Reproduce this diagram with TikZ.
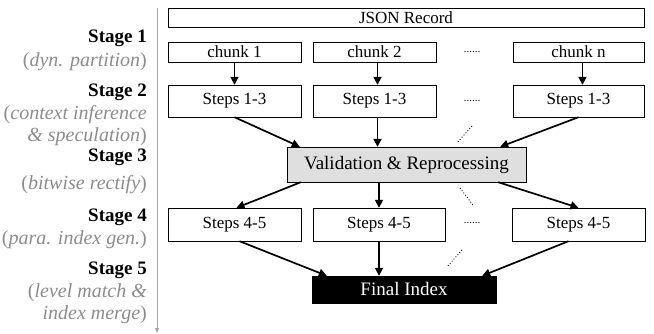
\documentclass[tikz,border=0pt]{standalone}
\usepackage{fontspec}
\setmainfont{Liberation Serif}
\usetikzlibrary{arrows.meta,calc,positioning}
\tikzset{
    box/.style = {
        draw,
        thin,
        inner sep=0pt,
        font=\fontsize{17}{19}\selectfont,
        },
    valid box/.style = {
        box,
        fill = gray!25,
        font=\fontsize{19}{21}\selectfont,
        },
    final box/.style = {
        box,
        fill = black,
        text = white,
        font=\fontsize{19}{21}\selectfont,
        },
    flow/.style = {
        -{Triangle[length=8pt,width=8pt]},
        line width=1.7pt,
        },
    more/.style = {
        dotted,
        line width=0.9pt,
        },
    stage/.style = {
        anchor=east,
        inner sep=0pt,
        font=\fontsize{19}{21}\selectfont\bfseries,
        },
    note/.style = {
        anchor=east,
        inner sep=0pt,
        text = black!45,
        font=\fontsize{20}{22}\selectfont,
        },
    dots/.style = {
        inner sep=0pt,
        font=\fontsize{11}{13}\selectfont,
        },
}

\begin{document}
\begin{tikzpicture}[x=1pt,y=-1pt]
            \useasboundingbox (0,0) rectangle (654,334);

            % stages on the left
            \coordinate (top) at (157,8);
            \coordinate (bottom) at (157,333);
            \draw[black!35, -{Triangle[length=5pt,width=4pt]}] (top) -- (bottom);

            \node[stage] (st1) at (147,38) {Stage 1};
            \node[note] (n1) at (147,62) {(\textit{dyn. partition})};
            \node[stage] (st2) at (147,92) {Stage 2};
            \node[note] (n2a) at (147,115) {(\textit{context inference}};
            \node[note] (n2b) at (147,137) {\textit{\& speculation})};
            \node[stage] (st3) at (147,157) {Stage 3};
            \node[note] (n3) at (147,185) {(\textit{bitwise rectify})};
            \node[stage] (st4) at (147,217) {Stage 4};
            \node[note] (n4) at (147,240) {(\textit{para. index gen.})};
            \node[stage] (st5) at (147,270) {Stage 5};
            \node[note] (n5a) at (147,293) {(\textit{level match \&}};
            \node[note] (n5b) at (147,315) {\textit{index merge})};

            % boxes
            \node[box, minimum width=476, minimum height=19] (json) at (406,17.5) {JSON Record};

            \node[box, minimum width=133, minimum height=20] (c1) at (234.5,52) {chunk 1};
            \node[box, minimum width=123, minimum height=20] (c2) at (374.5,52) {chunk 2};
            \node[box, minimum width=131, minimum height=20] (cn) at (578.5,52) {chunk n};
            \node[dots] (d1) at (472,52.5) {......};

            \node[box, minimum width=133, minimum height=32] (s1) at (234.5,101) {Steps 1-3};
            \node[box, minimum width=123, minimum height=32] (s2) at (374.5,101) {Steps 1-3};
            \node[box, minimum width=131, minimum height=32] (sn) at (578.5,101) {Steps 1-3};
            \node[dots] (d2) at (472,101.5) {......};

            \node[valid box, minimum width=239, minimum height=35] (valid) at (406.5,164.5) {Validation \& Reprocessing};

            \node[box, minimum width=133, minimum height=33] (t1) at (234.5,224.5) {Steps 4-5};
            \node[box, minimum width=132, minimum height=33] (t2) at (379,224.5) {Steps 4-5};
            \node[box, minimum width=133, minimum height=33] (tn) at (578.5,224.5) {Steps 4-5};
            \node[dots] (d3) at (472,223.5) {......};

            \node[final box, minimum width=184, minimum height=27] (final) at (404,289.5) {Final Index};

            % arrows
            \draw[flow] (c1.south) -- (s1.north);
            \draw[flow] ([xshift=3pt]c2.south) -- ([xshift=3pt]s2.north);
            \draw[flow] ([xshift=4pt]cn.south) -- ([xshift=4pt]sn.north);

            \draw[flow] (s1.south) -- ([xshift=13pt]valid.north west);
            \draw[flow] ([xshift=3pt]s2.south) -- ([xshift=3pt]s2.south |- valid.north);
            \draw[flow] (sn.south) -- ([xshift=-26pt]valid.north east);

            \draw[flow] ([xshift=14pt]valid.south west) -- ([xshift=2pt]t1.north);
            \draw[flow] (t2.north |- valid.south) -- (t2.north);
            \draw[flow] ([xshift=-28pt]valid.south east) -- (tn.north);

            \draw[flow] ([xshift=5pt]t1.south) -- ([xshift=15pt]final.north west);
            \draw[flow] (t2.south) -- (t2.south |- final.north);
            \draw[flow] ([xshift=-10pt]tn.south) -- ([xshift=-14pt]final.north east);

            % more chunks
            \coordinate (m1) at (472,126);
            \coordinate (m2) at (457,143);
            \coordinate (m3) at (460,188);
            \coordinate (m4) at (473,205);
            \coordinate (m5) at (462,250);
            \coordinate (m6) at (447,267);
            \draw[more] (m1) -- (m2);
            \draw[more] (m3) -- (m4);
            \draw[more] (m5) -- (m6);
        \end{tikzpicture}
\end{document}
